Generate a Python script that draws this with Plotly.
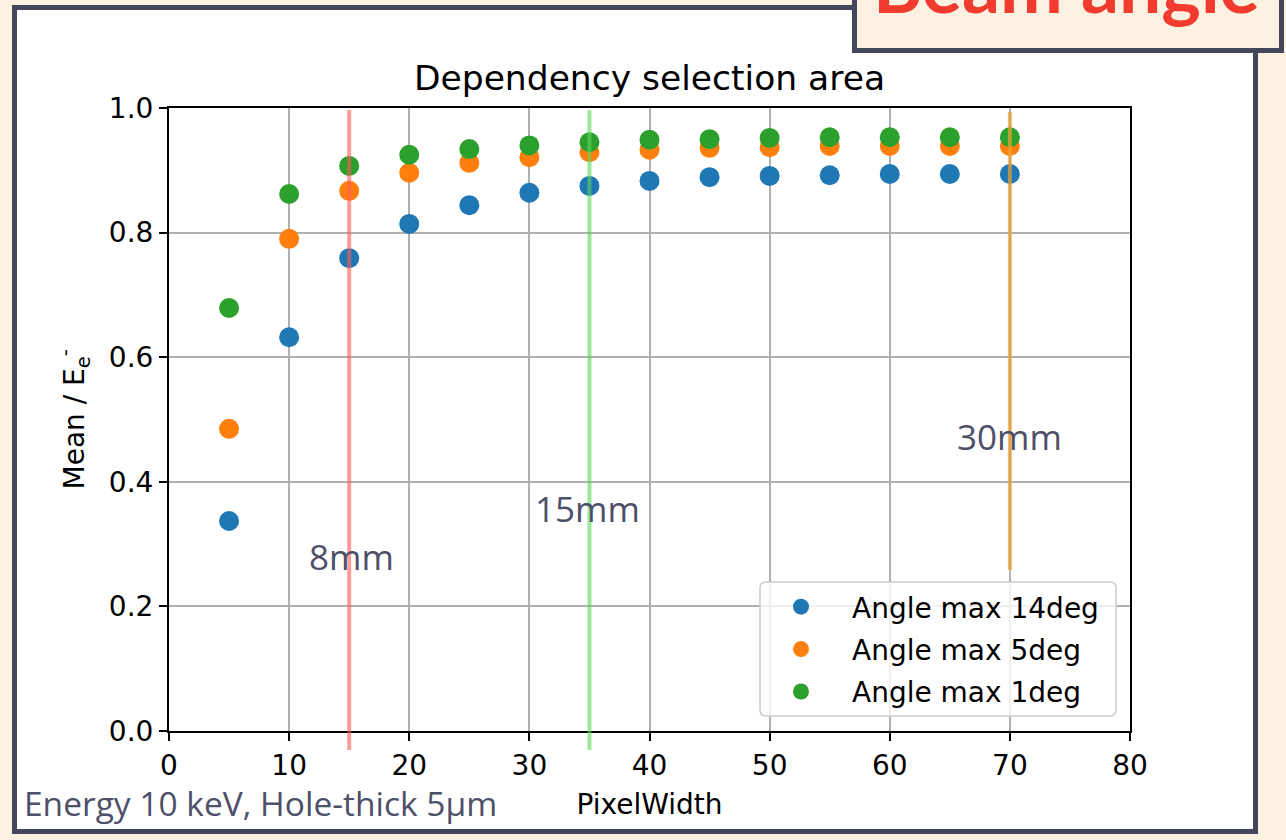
import plotly.graph_objects as go

# ---------------- data ----------------
pixel_width = [5, 10, 15, 20, 25, 30, 35, 40, 45, 50, 55, 60, 65, 70]
angle_14deg = [0.337, 0.632, 0.759, 0.814, 0.844, 0.864, 0.875, 0.883, 0.889, 0.891, 0.892, 0.894, 0.894, 0.894]
angle_5deg = [0.485, 0.790, 0.867, 0.896, 0.912, 0.921, 0.929, 0.933, 0.936, 0.937, 0.939, 0.939, 0.939, 0.939]
angle_1deg = [0.679, 0.862, 0.907, 0.925, 0.934, 0.940, 0.945, 0.949, 0.950, 0.952, 0.953, 0.953, 0.953, 0.953]
series_names = ["Angle max 14deg", "Angle max 5deg", "Angle max 1deg"]
series_colors = ["#1f77b4", "#ff7f0e", "#2ca02c"]

marker_x = [15, 35, 70]
marker_labels = ["8mm", "15mm", "30mm"]
marker_colors = ["rgba(255,90,90,0.6)", "rgba(90,215,90,0.6)", "rgba(240,160,50,0.7)"]

x_ticks = [0, 10, 20, 30, 40, 50, 60, 70, 80]
y_ticks = [0.0, 0.2, 0.4, 0.6, 0.8, 1.0]

# ---------------- layout geometry (pixels) ----------------
W, H = 1286, 840
L, R, T, B = 169, 1130, 108, 731  # plot area in pixels


def px(xp):
    return (xp - L) / (R - L)


def py(yp):
    return (B - yp) / (B - T)


CREAM = "#fdf2e1"
FRAME = "#44465b"
SLATE = "#4d5068"

fig = go.Figure()
for vals, name, col, grp in zip([angle_14deg, angle_5deg, angle_1deg], series_names, series_colors, ["a", "b", "c"]):
    fig.add_trace(go.Scatter(
        x=pixel_width, y=vals, mode="markers", name=name, legendgroup=grp,
        marker=dict(color=col, size=20, line=dict(width=0)),
    ))

shapes = []
# slide frame with white inner area
shapes.append(dict(type="rect", xref="paper", yref="paper", layer="below",
                   x0=px(14.5), x1=px(1255.5), y0=py(831.5), y1=py(7.5),
                   fillcolor="white", line=dict(color=FRAME, width=5)))
# rounded legend box
lx0, lx1, ly0, ly1, rr = px(760), px(1116), py(716), py(582), 6
rx = rr / (R - L)
ry = rr / (B - T)
path = (f"M {lx0+rx},{ly0} L {lx1-rx},{ly0} Q {lx1},{ly0} {lx1},{ly0+ry} "
        f"L {lx1},{ly1-ry} Q {lx1},{ly1} {lx1-rx},{ly1} L {lx0+rx},{ly1} "
        f"Q {lx0},{ly1} {lx0},{ly1-ry} L {lx0},{ly0+ry} Q {lx0},{ly0} {lx0+rx},{ly0} Z")
shapes.append(dict(type="path", xref="paper", yref="paper", path=path, layer="above",
                   fillcolor="rgba(255,255,255,0.8)", line=dict(color="#cccccc", width=1.5)))
# vertical width markers
ylims = [(750, 110), (750, 110), (570, 112)]
for xv, col, (yb, yt) in zip(marker_x, marker_colors, ylims):
    shapes.append(dict(type="line", xref="x", yref="paper", x0=xv, x1=xv,
                       y0=py(yb), y1=py(yt), layer="above", line=dict(color=col, width=4)))
# title box (top right)
shapes.append(dict(type="rect", xref="paper", yref="paper", layer="above",
                   x0=px(854.5), x1=px(1281.5), y0=py(50.5), y1=py(-20),
                   fillcolor=CREAM, line=dict(color=FRAME, width=5)))

annotations = []
label_pos = [(15.23, 556), (34.8, 508), (70.0, 436)]
for lab, (xv, yp) in zip(marker_labels, label_pos):
    annotations.append(dict(text=lab, x=xv, xref="x", y=py(yp), yref="paper",
                            showarrow=False, xanchor="center", yanchor="middle",
                            font=dict(family="Open Sans", size=35, color=SLATE)))
annotations.append(dict(text="Energy 10 keV, Hole-thick 5μm", x=px(22), y=py(803),
                        xref="paper", yref="paper", showarrow=False, xanchor="left", yanchor="middle",
                        font=dict(family="Open Sans", size=33.5, color=SLATE)))
annotations.append(dict(text="<b>Beam angle</b>", x=px(1262), y=py(-16), xref="paper", yref="paper",
                        showarrow=False, xanchor="right", yanchor="middle",
                        font=dict(family="Lato", size=75, color="#f23b2f")))
annotations.append(dict(text="Mean / E<sub>e</sub><sup>-</sup>", x=px(75), y=0.5, xref="paper", yref="paper",
                        showarrow=False, textangle=-90, xanchor="center", yanchor="middle",
                        font=dict(family="DejaVu Sans", size=28, color="black")))

axis_common = dict(showline=True, linecolor="black", linewidth=2, mirror=True,
                   ticks="outside", ticklen=8, tickwidth=2, tickcolor="black",
                   showgrid=True, gridcolor="#b0b0b0", gridwidth=1.6, zeroline=False,
                   tickfont=dict(family="DejaVu Sans", size=28, color="black"))

fig.update_layout(
    width=W, height=H,
    margin=dict(l=L, r=W - R, t=T, b=H - B, pad=0),
    paper_bgcolor=CREAM, plot_bgcolor="white",
    title=dict(text="Dependency selection area", x=0.5, xref="paper", xanchor="center",
               y=1 - 78 / H, yref="container", yanchor="middle",
               font=dict(family="DejaVu Sans", size=34.5, color="black")),
    xaxis=dict(range=[0, 80], tickvals=x_ticks, ticktext=[str(v) for v in x_ticks],
               title=dict(text="PixelWidth", standoff=14,
                          font=dict(family="DejaVu Sans", size=28, color="black")),
               **axis_common),
    yaxis=dict(range=[0, 1.0], tickvals=y_ticks, ticktext=[f"{v:.1f}" for v in y_ticks],
               **axis_common),
    showlegend=True,
    legend=dict(x=px(750), y=py(582), xanchor="left", yanchor="top",
                bgcolor="rgba(0,0,0,0)", borderwidth=0, itemwidth=92,
                tracegroupgap=3, itemsizing="trace",
                font=dict(family="DejaVu Sans", size=28, color="black")),
    shapes=shapes, annotations=annotations,
)

fig.write_html("out.html")
